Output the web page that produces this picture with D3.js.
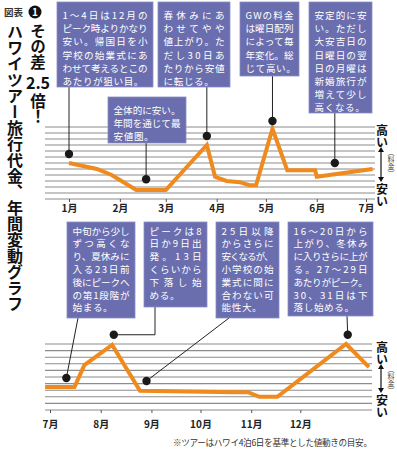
<!DOCTYPE html>
<html>
<head>
<meta charset="utf-8">
<script src="https://cdn.jsdelivr.net/npm/d3@7/dist/d3.min.js"></script>
<style>
  body { margin: 0; background: #fff; }
  text { font-family: "Noto Sans CJK JP", "Noto Sans", sans-serif; }
</style>
</head>
<body>
<svg id="chart" width="397" height="450"></svg>
<script>
// ---- data: January - July (price level, 0 = cheapest gridline)
var janJulDates  = ["2015-01-01","2015-01-18","2015-01-27","2015-02-11","2015-03-01","2015-03-26",
                    "2015-03-31","2015-04-07","2015-04-15","2015-04-21","2015-04-25","2015-05-05",
                    "2015-05-14","2015-05-31","2015-06-01","2015-07-05"];
var janJulLevels = [6, 5, 4, 1.5, 1.5, 9, 3.7, 3, 2.8, 2.3, 2.3, 11.7, 4.8, 4.8, 3.7, 5];

// ---- data: July - December
var julDecDates  = ["2015-06-28","2015-07-16","2015-07-22","2015-08-08","2015-08-25","2015-10-22",
                    "2015-10-30","2015-11-06","2015-11-17","2015-12-29","2016-01-12"];
var julDecLevels = [3.5, 3.5, 6.8, 9.85, 2.9, 2.7, 2.7, 2.0, 2.0, 10, 6.5];

// annotation markers (date, level)
var janJulMarkDates  = ["2015-01-01","2015-02-17","2015-03-26","2015-05-05","2015-06-12"];
var janJulMarkLevels = [7.5, 3.3, 10.5, 13, 6];
var julDecMarkDates  = ["2015-07-11","2015-08-09","2015-08-29","2015-12-30"];
var julDecMarkLevels = [4.85, 11.4, 4.4, 11.4];

var janJulMonths = ["2015-01-01","2015-02-01","2015-03-01","2015-04-01","2015-05-01","2015-06-01","2015-07-01"];
var julDecMonths = ["2015-07-01","2015-08-01","2015-09-01","2015-10-01","2015-11-01","2015-12-01"];

var janJulNotes = [
  ["1〜4日は12月の","ピーク時よりかなり","安い。帰国日を小","学校の始業式にあ","わせて考えるとこの","あたりが狙い目。"],
  ["全体的に安い。","年間を通じて最","安値圏。"],
  ["春休みにあ","わせてやや","値上がり。た","だし30日あ","たりから安値","に転じる。"],
  ["GWの料金","は曜日配列","によって毎","年変化。総","じて高い。"],
  ["安定的に安","い。ただし","大安吉日の","日曜日の翌","日の月曜は","新婚旅行が","増えて少し","高くなる。"]
];
var julDecNotes = [
  ["中旬から少し","ずつ高くな","り、夏休みに","入る23日前","後にピークへ","の第1段階が","始まる。"],
  ["ピークは8","日か9日出","発。13日","くらいから","下落し始","める。"],
  ["25日以降","からさらに","安くなるが、","小学校の始","業式に間に","合わない可","能性大。"],
  ["16〜20日から","上がり、冬休み","に入りさらに上が","る。27〜29日","あたりがピーク。","30、31日は下","落し始める。"]
];

var titleText = "ハワイツアー旅行代金、年間変動グラフ";
var footnote = "※ツアーはハワイ4泊6日を基準とした値動きの目安。";

// ---- layout
var parse = d3.timeParse("%Y-%m-%d");
var svg = d3.select("#chart");
var orange = "#ef8a1f", boxFill = "#6a6eae", gridGray = "#8c8c8c";

var topBoxes = [
  {x: 57, y: 2, w: 96, h: 85},
  {x: 108, y: 97, w: 78, h: 46},
  {x: 158, y: 2, w: 72, h: 85},
  {x: 240, y: 2, w: 59, h: 74},
  {x: 309, y: 2, w: 63, h: 111}
];
var bottomBoxes = [
  {x: 67, y: 222, w: 68, h: 96, from: [78, 318], kind: "line"},
  {x: 144, y: 222, w: 63, h: 85, from: [155, 307], kind: "elbow"},
  {x: 216, y: 222, w: 63, h: 96, from: [229, 318], kind: "line"},
  {x: 288, y: 222, w: 85, h: 94, from: [347, 316], kind: "line"}
];

function drawPanel(opt) {
  var x = d3.scaleTime().domain(opt.xDomain).range(opt.xRange);
  var y = d3.scaleLinear().domain([0, opt.nLines - 1]).range([opt.bottom, opt.top]);
  var g = svg.append("g");

  // gridlines
  g.selectAll("line.grid")
    .data(d3.range(opt.nLines))
    .join("line")
    .attr("x1", opt.gridX[0]).attr("x2", opt.gridX[1])
    .attr("y1", function(d) { return y(d); })
    .attr("y2", function(d) { return y(d); })
    .attr("stroke", gridGray)
    .attr("stroke-width", 1.1);

  // month axis
  var axis = d3.axisBottom(x)
    .tickValues(opt.months.map(parse))
    .tickFormat(function(d) { return (d.getMonth() + 1) + "月"; })
    .tickSize(3)
    .tickPadding(opt.tickPad);
  var ag = g.append("g").attr("transform", "translate(0," + opt.bottom + ")").call(axis);
  ag.select(".domain").remove();
  ag.selectAll(".tick line").attr("stroke", "#555");
  ag.selectAll(".tick text")
    .attr("fill", "#222")
    .style("font-size", "10px")
    .style("font-weight", "700");

  // price line
  var pts = opt.dates.map(function(d, i) { return [parse(d), opt.levels[i]]; });
  g.append("path")
    .datum(pts)
    .attr("fill", "none")
    .attr("stroke", orange)
    .attr("stroke-width", 4)
    .attr("stroke-linejoin", "miter")
    .attr("d", d3.line()
      .x(function(d) { return x(d[0]); })
      .y(function(d) { return y(d[1]); }));

  // connectors
  var marks = opt.markDates.map(function(d, i) { return [x(parse(d)), y(opt.markLevels[i])]; });
  opt.boxes.forEach(function(b, i) {
    var m = marks[i], path;
    if (b.from == null) {
      path = "M" + m[0] + "," + (b.y + b.h) + "V" + m[1];
    } else if (b.kind === "elbow") {
      path = "M" + b.from[0] + "," + b.from[1] + "V" + m[1] + "H" + m[0];
    } else {
      path = "M" + b.from[0] + "," + b.from[1] + "L" + m[0] + "," + m[1];
    }
    g.append("path").attr("d", path).attr("fill", "none")
      .attr("stroke", "#222").attr("stroke-width", 1);
  });

  g.selectAll("circle.mark")
    .data(marks)
    .join("circle")
    .attr("cx", function(d) { return d[0]; })
    .attr("cy", function(d) { return d[1]; })
    .attr("r", 4.2)
    .attr("fill", "#1a1a1a");

  // note boxes
  opt.boxes.forEach(function(b, i) {
    var lines = opt.notes[i];
    g.append("rect")
      .attr("x", b.x).attr("y", b.y).attr("width", b.w).attr("height", b.h)
      .attr("fill", boxFill)
      .attr("stroke", "#8a8ec6").attr("stroke-width", 0.8);
    var pad = 5.5, tw = b.w - pad * 2;
    lines.forEach(function(t, j) {
      var tx = g.append("text")
        .attr("x", b.x + pad)
        .attr("y", b.y + opt.textTop + j * opt.lineH)
        .attr("fill", "#fff")
        .style("font-size", "9.6px")
        .text(t);
      if (j < lines.length - 1) {
        tx.attr("textLength", tw).attr("lengthAdjust", "spacing");
      } else {
        tx.style("letter-spacing", "0.6px");
      }
    });
  });

  // 高い ↕ 安い
  var rx = 382, yt = opt.top, yb = opt.bottom;
  function vtext(t, xx, yy, size, weight) {
    return svg.append("text")
      .attr("x", xx).attr("y", yy)
      .style("writing-mode", "vertical-rl")
      .style("font-size", size + "px")
      .style("font-weight", weight)
      .attr("fill", "#111")
      .text(t);
  }
  vtext("高い", rx, yt - 3, 12, 700);
  vtext("安い", rx, yb - 16, 12, 700);
  vtext("（料金）", rx + 9, yt + 22, 7, 400).attr("fill", "#444");
  var a1 = yt + 21, a2 = yb - 18;
  svg.append("line").attr("x1", rx - 1).attr("x2", rx - 1).attr("y1", a1 + 2).attr("y2", a2 - 2)
    .attr("stroke", "#111").attr("stroke-width", 1.2);
  svg.append("path").attr("d", "M" + (rx - 4) + "," + (a1 + 4) + "L" + (rx - 1) + "," + (a1 - 1) + "L" + (rx + 2) + "," + (a1 + 4) + "Z").attr("fill", "#111");
  svg.append("path").attr("d", "M" + (rx - 4) + "," + (a2 - 4) + "L" + (rx - 1) + "," + (a2 + 1) + "L" + (rx + 2) + "," + (a2 - 4) + "Z").attr("fill", "#111");
}

drawPanel({
  xDomain: [parse("2015-01-01"), parse("2015-07-01")], xRange: [69, 366],
  nLines: 13, top: 127, bottom: 199, gridX: [45, 375], tickPad: 3,
  months: janJulMonths, dates: janJulDates, levels: janJulLevels,
  markDates: janJulMarkDates, markLevels: janJulMarkLevels,
  boxes: topBoxes, notes: janJulNotes, lineH: 13.2, textTop: 17
});

drawPanel({
  xDomain: [parse("2015-07-01"), parse("2016-01-01")], xRange: [50, 351],
  nLines: 11, top: 344, bottom: 410, gridX: [45, 372], tickPad: 8,
  months: julDecMonths, dates: julDecDates, levels: julDecLevels,
  markDates: julDecMarkDates, markLevels: julDecMarkLevels,
  boxes: bottomBoxes, notes: julDecNotes, lineH: 12.8, textTop: 12.5
});

// title block
svg.append("text").attr("x", 4).attr("y", 16)
  .style("font-size", "9.5px").style("font-weight", "700").attr("fill", "#333").text("図表");
svg.append("circle").attr("cx", 35).attr("cy", 12).attr("r", 6.5).attr("fill", "#111");
svg.append("text").attr("x", 35).attr("y", 16).attr("text-anchor", "middle")
  .style("font-size", "10px").style("font-weight", "700").attr("fill", "#fff").text("1");

function vTitle(t, xx, yy, size) {
  return svg.append("text").attr("x", xx).attr("y", yy)
    .style("writing-mode", "vertical-rl")
    .style("font-size", size + "px").style("font-weight", "700")
    .attr("fill", "#111").text(t);
}
vTitle(titleText, 15, 24, 16);
vTitle("その差", 38, 23, 15.5);
svg.append("text").attr("x", 38).attr("y", 89).attr("text-anchor", "middle")
  .style("font-size", "16px").style("font-weight", "700").attr("fill", "#111").text("2.5");
vTitle("倍！", 38, 93, 15.5);

svg.append("text").attr("x", 173).attr("y", 446)
  .attr("textLength", 199).attr("lengthAdjust", "spacing")
  .style("font-size", "8.6px").attr("fill", "#333").text(footnote);
</script>
</body>
</html>
